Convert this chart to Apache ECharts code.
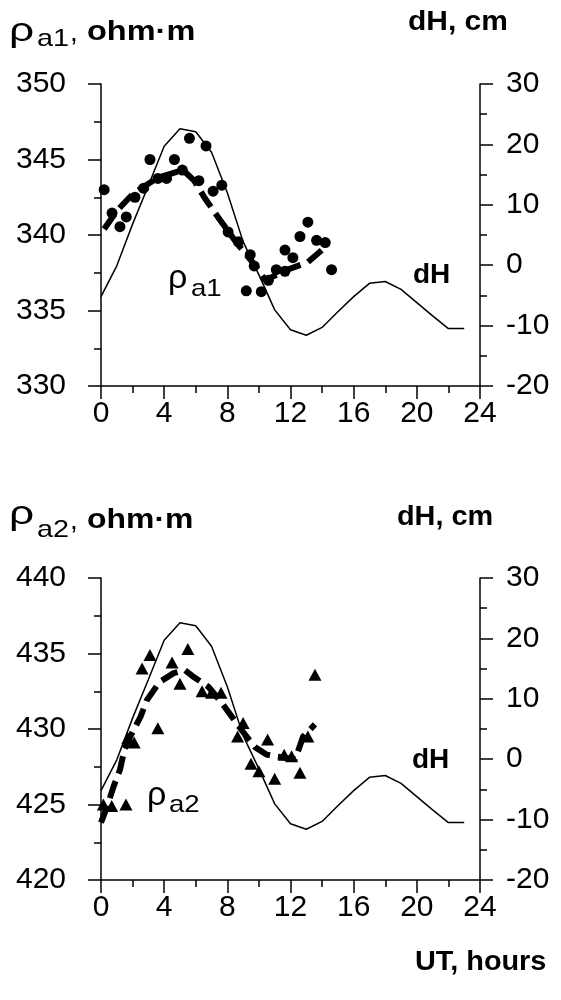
<!DOCTYPE html>
<html>
<head>
<meta charset="utf-8">
<script src="https://cdn.jsdelivr.net/npm/echarts@6/dist/echarts.min.js"></script>
<style>
html,body{margin:0;padding:0;background:#fff;}
#chart{width:561px;height:1000px;}
</style>
</head>
<body>
<div id="chart"></div>
<script>
// ---- data ----
const hours = [0,1,2,3,4,5,6,7,8,9,10,11,12,13,14,15,16,17,18,19,20,21,22,23];
const dH = [-5.2,-0.1,6.8,13.2,19.7,22.6,22.1,18.7,12.0,3.9,-1.6,-7.4,-10.7,-11.6,-10.3,-7.7,-5.2,-3.0,-2.7,-4.0,-6.2,-8.4,-10.5,-10.5];

const rho1Time = [0.2,0.7,1.2,1.6,2.15,2.7,3.1,3.6,4.15,4.65,5.15,5.6,6.2,6.65,7.1,7.65,8.05,8.7,9.2,9.45,9.7,10.15,10.6,11.1,11.65,11.65,12.15,12.6,13.1,13.65,14.2,14.6];
const rho1 = [343.0,341.45,340.55,341.2,342.5,343.1,345.0,343.75,343.75,345.0,344.3,346.4,343.6,345.9,342.9,343.3,340.2,339.55,336.3,338.7,337.95,336.25,337.0,337.7,337.6,339.0,338.5,339.9,340.85,339.65,339.5,337.7];
const rho1FitTime = [0.2,1.0,2.0,3.0,3.6,5.2,5.9,6.6,7.4,8.5,9.75,10.4,11.8,13.1,14.1];
const rho1Fit = [340.4,341.6,342.7,343.4,343.8,344.3,343.6,342.4,341.2,339.6,338.0,337.0,337.7,338.2,339.1];

const rho2Time = [0.15,0.68,1.58,1.7,2.1,2.6,3.1,3.6,4.5,5.0,5.5,6.4,7.0,7.6,8.65,9.0,9.5,10.0,10.55,11.0,11.6,12.07,12.6,13.1,13.55];
const rho2 = [425.0,424.9,425.0,429.4,429.1,434.0,434.9,430.05,434.4,433.0,435.3,432.5,432.4,432.4,429.5,430.4,427.7,427.2,429.3,426.7,428.3,428.2,427.1,429.5,433.6];
const rho2FitTime = [0.0,0.4,0.8,1.2,1.5,1.9,2.5,2.9,3.7,4.6,5.3,5.8,6.8,7.6,8.3,9.0,9.75,10.5,11.0,12.3,12.8,13.55];
const rho2Fit = [423.8,424.9,426.2,427.3,428.7,429.6,430.8,431.9,433.1,433.7,433.9,433.5,432.8,431.8,430.8,429.8,428.8,428.3,428.2,428.0,429.5,430.3];

// ---- helpers ----
const zip = (a, b) => a.map((v, i) => [v, b[i]]);
const FONT = 'Liberation Sans, Arial, sans-serif';
const labelStyle = {color:'#000', fontSize:30, fontFamily:FONT};
const lineStyle = {color:'#000', width:1.5};

function xAxis(gi){
  return {type:'value', gridIndex:gi, min:0, max:24, interval:4,
    axisLine:{show:true, lineStyle:lineStyle, onZero:false},
    axisTick:{show:true, inside:false, length:13, lineStyle:lineStyle},
    minorTick:{show:true, splitNumber:2, length:7, lineStyle:lineStyle},
    splitLine:{show:false},
    axisLabel:Object.assign({margin:13, showMinLabel:true, showMaxLabel:true}, labelStyle)};
}
function yAxis(gi, pos, min, max, interval, margin){
  return {type:'value', gridIndex:gi, position:pos, min:min, max:max, interval:interval,
    axisLine:{show:true, lineStyle:lineStyle, onZero:false},
    axisTick:{show:true, inside:false, length:13, lineStyle:lineStyle},
    minorTick:{show:true, splitNumber:2, length:7, lineStyle:lineStyle},
    splitLine:{show:false},
    axisLabel:Object.assign({margin:margin, showMinLabel:true, showMaxLabel:true,
      align: pos === 'left' ? 'right' : 'left'}, labelStyle)};
}

function txt(text, x, baseline, size, bold, sx){
  return {type:'text', x:x, y:baseline - 0.34*size, scaleX:sx || 1,
    style:{text:text, fill:'#000', font:(bold?'bold ':'') + size + 'px ' + FONT,
      textAlign:'left', textVerticalAlign:'middle', verticalAlign:'middle'}};
}

const chart = echarts.init(document.getElementById('chart'), null, {renderer:'canvas'});
chart.setOption({
  animation:false,
  backgroundColor:'#fff',
  grid:[
    {left:101, top:84, width:379, height:302},
    {left:101, top:578, width:379, height:302}
  ],
  xAxis:[xAxis(0), xAxis(1)],
  yAxis:[
    yAxis(0,'left',330,350,5,35),
    yAxis(0,'right',-20,30,10,26),
    yAxis(1,'left',420,440,5,35),
    yAxis(1,'right',-20,30,10,26)
  ],
  series:[
    {type:'line', xAxisIndex:0, yAxisIndex:1, data:zip(hours,dH), symbol:'none',
      lineStyle:{color:'#000', width:1.5}, z:2},
    {type:'line', xAxisIndex:0, yAxisIndex:0, data:zip(rho1FitTime,rho1Fit), symbol:'none',
      lineStyle:{color:'#000', width:6, type:[18,8], cap:'butt'}, z:3},
    {type:'scatter', xAxisIndex:0, yAxisIndex:0, data:zip(rho1Time,rho1), symbol:'circle', symbolSize:11,
      itemStyle:{color:'#000', opacity:1}, z:4},
    {type:'line', xAxisIndex:1, yAxisIndex:3, data:zip(hours,dH), symbol:'none',
      lineStyle:{color:'#000', width:1.5}, z:2},
    {type:'line', xAxisIndex:1, yAxisIndex:2, data:zip(rho2FitTime,rho2Fit), symbol:'none',
      lineStyle:{color:'#000', width:6, type:[18,8], cap:'butt'}, z:3},
    {type:'scatter', xAxisIndex:1, yAxisIndex:2, data:zip(rho2Time,rho2), symbol:'triangle', symbolSize:[13,12],
      itemStyle:{color:'#000', opacity:1}, z:4}
  ],
  graphic:[
    // top title
    txt('\u03C1', 9, 43, 34, false, 1.3),
    txt('a1', 37, 48, 24, false, 1.2),
    txt(',', 70, 43, 28, false),
    txt('ohm\u00B7m', 87, 42, 28, true, 1.16),
    txt('dH, cm', 408, 32, 28, true, 1.07),
    // top in-chart labels
    txt('\u03C1', 168, 290, 34, false),
    txt('a1', 191, 298, 24, false, 1.15),
    txt('dH', 413, 285, 28, true),
    // bottom title
    txt('\u03C1', 9, 526, 34, false, 1.3),
    txt('a2', 37, 539, 24, false, 1.2),
    txt(',', 70, 531, 28, false),
    txt('ohm\u00B7m', 87, 530, 28, true, 1.14),
    txt('dH, cm', 397, 527, 28, true, 1.03),
    // bottom in-chart labels
    txt('\u03C1', 147, 807, 34, false),
    txt('a2', 169, 814, 24, false, 1.15),
    txt('dH', 412, 770, 28, true),
    txt('UT, hours', 415, 972, 28, true, 1.03)
  ]
});
</script>
</body>
</html>
